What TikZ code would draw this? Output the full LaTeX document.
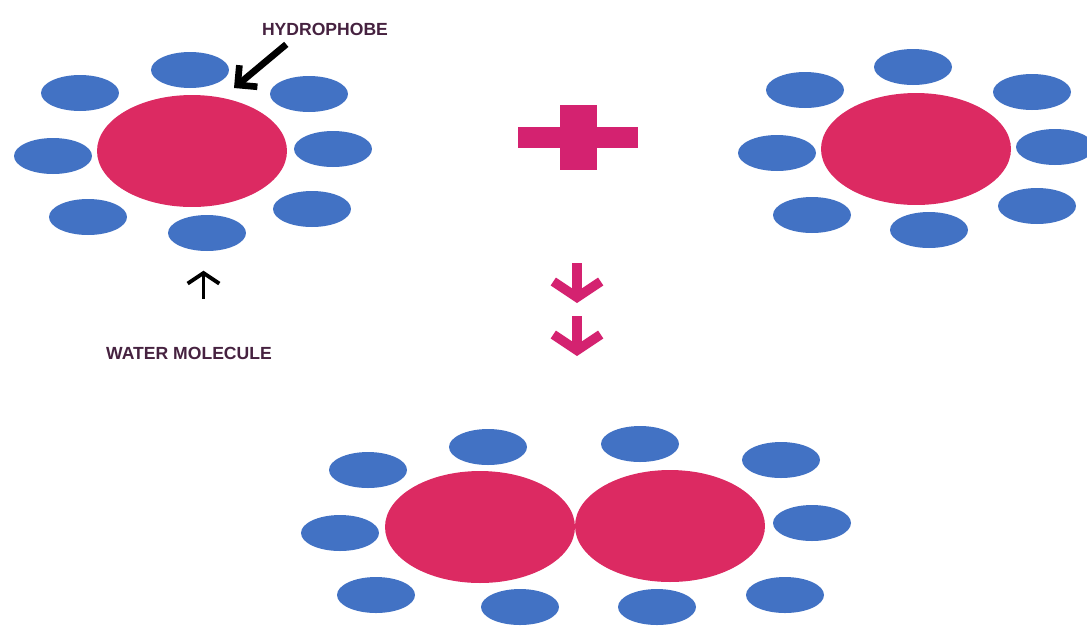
\documentclass[tikz,border=0pt]{standalone}
\usepackage{fontspec}
\usepackage{tikz}
\usetikzlibrary{arrows.meta, positioning, shapes.geometric}
\newfontfamily\labelfont{Liberation Sans}
\definecolor{waterblue}{RGB}{66, 114, 196}
\definecolor{hydrored}{RGB}{220, 42, 98}
\definecolor{plusmagenta}{RGB}{212, 34, 112}
\definecolor{labelplum}{RGB}{70, 34, 64}

\begin{document}
\begin{tikzpicture}[
  x=0.02cm, y=-0.02cm,
  water/.style={ellipse, fill=waterblue, inner sep=0pt,
                minimum width=1.56cm, minimum height=0.72cm},
  hydro/.style={ellipse, fill=hydrored, inner sep=0pt,
                minimum width=3.8cm, minimum height=2.24cm},
  tag/.style={font=\labelfont\bfseries\fontsize{10}{12}\selectfont,
              text=labelplum, inner sep=2pt},
  pointer/.style={-{Straight Barb[length=8pt, width=16pt]}, line width=3.8pt},
  upmark/.style={-{Straight Barb[length=6pt, width=18pt]}, line width=2.2pt},
  react/.style={-{Straight Barb[length=9pt, width=27pt]}, line width=5.4pt,
                color=plusmagenta}
]
  \useasboundingbox (0,0) rectangle (1087,626);

  \node[hydro] (lcore) at (192,151) {};
  \node[water] (la) at (190,70) {};
  \node[water] (lb) at (80,93) {};
  \node[water] (lc) at (309,94) {};
  \node[water] (ld) at (53,156) {};
  \node[water] (le) at (333,149) {};
  \node[water] (lf) at (88,217) {};
  \node[water] (lg) at (207,233) {};
  \node[water] (lh) at (312,209) {};

  \node[hydro] (rcore) at (916,149) {};
  \node[water] (ra) at (913,67) {};
  \node[water] (rb) at (805,90) {};
  \node[water] (rc) at (1032,92) {};
  \node[water] (rd) at (777,153) {};
  \node[water] (re) at (1055,147) {};
  \node[water] (rf) at (812,215) {};
  \node[water] (rg) at (929,230) {};
  \node[water] (rh) at (1037,206) {};

  \node[hydro] (bcorel) at (480,527) {};
  \node[hydro] (bcorer) at (670,526) {};
  \node[water] (ba) at (368,470) {};
  \node[water] (bb) at (488,447) {};
  \node[water] (bc) at (640,444) {};
  \node[water] (bd) at (781,460) {};
  \node[water] (be) at (340,533) {};
  \node[water] (bf) at (812,523) {};
  \node[water] (bg) at (376,595) {};
  \node[water] (bh) at (520,607) {};
  \node[water] (bi) at (657,607) {};
  \node[water] (bj) at (785,595) {};

  \node[tag] (hydrolbl) at (325,29) {HYDROPHOBE};
  \node[tag] (waterlbl) at (189,353) {WATER MOLECULE};

  \coordinate (hydtip) at (234,88);
  \draw[pointer] ([xshift=16pt, yshift=-3pt]hydrolbl.south west) -- (hydtip);
  \draw[upmark] ([xshift=-2pt, yshift=-27pt]lg.south) -- ([xshift=-2pt, yshift=-11pt]lg.south);

  \fill[plusmagenta] (518,127) rectangle (638,148);
  \fill[plusmagenta] (560,105) rectangle (597,170);

  \coordinate (stepa) at (577,263);
  \coordinate (stepb) at (577,316);
  \draw[react] (stepa) -- ++(0,40);
  \draw[react] (stepb) -- ++(0,40);
\end{tikzpicture}
\end{document}
